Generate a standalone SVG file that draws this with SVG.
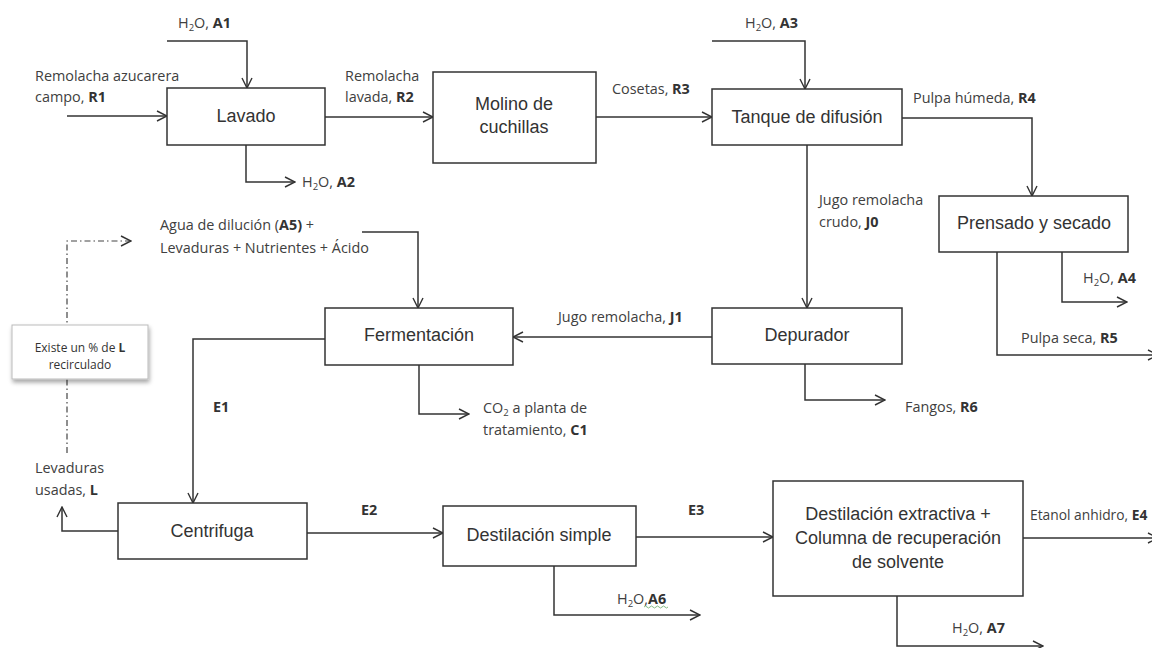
<svg xmlns="http://www.w3.org/2000/svg" width="1152" height="648" viewBox="0 0 1152 648">
<style>
.box{fill:#fff;stroke:#333;stroke-width:1.5}
.bt{font-family:"Liberation Sans",Arial,sans-serif;font-size:18px;fill:#333;text-anchor:middle}
.lb{font-family:"Open Sans","Liberation Sans",sans-serif;font-size:14.4px;fill:#404040}
.lb tspan.b{font-weight:bold;fill:#333}
.sub{font-size:9.5px}
.cn{fill:none;stroke:#333;stroke-width:1.5}
.dd{fill:none;stroke:#444;stroke-width:1.2;stroke-dasharray:6 3 1.5 3}
.nt{font-family:"Open Sans","Liberation Sans",sans-serif;font-size:12px;fill:#333;text-anchor:middle}
</style>
<defs>
<marker id="ar" viewBox="0 0 12 12" refX="11" refY="6" markerWidth="12" markerHeight="12" markerUnits="userSpaceOnUse" orient="auto">
<path d="M1,1 L11,6 L1,11" fill="none" stroke="#333" stroke-width="1.4"/>
</marker>
<filter id="sh" x="-20%" y="-20%" width="140%" height="160%">
<feDropShadow dx="1" dy="3" stdDeviation="2" flood-color="#000" flood-opacity="0.35"/>
</filter>
</defs>
<rect width="1152" height="648" fill="#fff"/>

<g id="connectors">
<path class="cn" d="M67,116 H167" marker-end="url(#ar)"/>
<path class="cn" d="M167,41 H247 V88" marker-end="url(#ar)"/>
<path class="cn" d="M246,145 V182 H295" marker-end="url(#ar)"/>
<path class="cn" d="M325,117 H433" marker-end="url(#ar)"/>
<path class="cn" d="M596,117 H712" marker-end="url(#ar)"/>
<path class="cn" d="M712,41 H805 V89" marker-end="url(#ar)"/>
<path class="cn" d="M902,118 H1032 V196" marker-end="url(#ar)"/>
<path class="cn" d="M1062,252 V302 H1127" marker-end="url(#ar)"/>
<path class="cn" d="M997,252 V355 H1158" marker-end="url(#ar)"/>
<path class="cn" d="M807,145 V308" marker-end="url(#ar)"/>
<path class="cn" d="M805,364 V400 H885" marker-end="url(#ar)"/>
<path class="cn" d="M712,337 H513" marker-end="url(#ar)"/>
<path class="cn" d="M362,232 H418 V308" marker-end="url(#ar)"/>
<path class="cn" d="M419,365 V414 H469" marker-end="url(#ar)"/>
<path class="cn" d="M325,339 H193 V503" marker-end="url(#ar)"/>
<path class="cn" d="M118,531 H62 V507" marker-end="url(#ar)"/>
<path class="cn" d="M307,533 H443" marker-end="url(#ar)"/>
<path class="cn" d="M636,537 H773" marker-end="url(#ar)"/>
<path class="cn" d="M554,566 V615 H700" marker-end="url(#ar)"/>
<path class="cn" d="M1023,538 H1158" marker-end="url(#ar)"/>
<path class="cn" d="M897,596 V646 H1043" marker-end="url(#ar)"/>
<path class="dd" d="M67,453 V241 H131" marker-end="url(#ar)"/>
</g>

<g id="lavado"><rect class="box" x="167" y="88" width="158" height="57"/><text class="bt" x="246" y="122">Lavado</text></g>
<g id="molino"><rect class="box" x="433" y="72" width="163" height="91"/><text class="bt" x="514" y="110">Molino de</text><text class="bt" x="514" y="133">cuchillas</text></g>
<g id="tanque"><rect class="box" x="712" y="89" width="190" height="56"/><text class="bt" x="807" y="123">Tanque de difusión</text></g>
<g id="prensado"><rect class="box" x="939" y="196" width="189" height="56"/><text class="bt" x="1034" y="229">Prensado y secado</text></g>
<g id="depurador"><rect class="box" x="712" y="308" width="190" height="56"/><text class="bt" x="807" y="341">Depurador</text></g>
<g id="fermentacion"><rect class="box" x="325" y="308" width="188" height="57"/><text class="bt" x="419" y="341">Fermentación</text></g>
<g id="centrifuga"><rect class="box" x="118" y="503" width="189" height="56"/><text class="bt" x="212" y="537">Centrifuga</text></g>
<g id="dest-simple"><rect class="box" x="443" y="506" width="193" height="60"/><text class="bt" x="539" y="541">Destilación simple</text></g>
<g id="dest-extractiva"><rect class="box" x="773" y="481" width="250" height="115"/><text class="bt" x="898" y="520">Destilación extractiva +</text><text class="bt" x="898" y="544">Columna de recuperación</text><text class="bt" x="898" y="568">de solvente</text></g>
<g id="nota"><rect x="12" y="325" width="136" height="54" fill="#fff" stroke="#bbb" stroke-width="1" filter="url(#sh)"/><text class="nt" x="80" y="352">Existe  un % de <tspan font-weight="bold">L</tspan></text><text class="nt" x="80" y="369">recirculado</text></g>

<g id="labels">
<text class="lb" x="178" y="28">H<tspan class="sub" dy="3">2</tspan><tspan dy="-3">O, </tspan><tspan class="b">A1</tspan></text>
<text class="lb" x="35" y="81">Remolacha azucarera</text>
<text class="lb" x="35" y="102">campo, <tspan class="b">R1</tspan></text>
<text class="lb" x="302" y="187">H<tspan class="sub" dy="3">2</tspan><tspan dy="-3">O, </tspan><tspan class="b">A2</tspan></text>
<text class="lb" x="345" y="81">Remolacha</text>
<text class="lb" x="345" y="102">lavada, <tspan class="b">R2</tspan></text>
<text class="lb" x="612" y="94">Cosetas, <tspan class="b">R3</tspan></text>
<text class="lb" x="745" y="28">H<tspan class="sub" dy="3">2</tspan><tspan dy="-3">O, </tspan><tspan class="b">A3</tspan></text>
<text class="lb" x="913" y="103">Pulpa húmeda, <tspan class="b">R4</tspan></text>
<text class="lb" x="819" y="205">Jugo remolacha</text>
<text class="lb" x="819" y="227">crudo, <tspan class="b">J0</tspan></text>
<text class="lb" x="1083" y="283">H<tspan class="sub" dy="3">2</tspan><tspan dy="-3">O, </tspan><tspan class="b">A4</tspan></text>
<text class="lb" x="1021" y="343">Pulpa seca, <tspan class="b">R5</tspan></text>
<text class="lb" x="905" y="412">Fangos, <tspan class="b">R6</tspan></text>
<text class="lb" x="558" y="322">Jugo remolacha, <tspan class="b">J1</tspan></text>
<text class="lb" x="160" y="230">Agua de dilución (<tspan class="b">A5)</tspan> +</text>
<text class="lb" x="160" y="253">Levaduras + Nutrientes + Ácido</text>
<text class="lb" x="483" y="413">CO<tspan class="sub" dy="3">2</tspan><tspan dy="-3"> a planta de</tspan></text>
<text class="lb" x="483" y="435">tratamiento, <tspan class="b">C1</tspan></text>
<text class="lb" x="213" y="412"><tspan class="b">E1</tspan></text>
<text class="lb" x="35" y="473">Levaduras</text>
<text class="lb" x="35" y="495">usadas, <tspan class="b">L</tspan></text>
<text class="lb" x="361" y="515"><tspan class="b">E2</tspan></text>
<text class="lb" x="688" y="515"><tspan class="b">E3</tspan></text>
<text class="lb" x="617" y="604">H<tspan class="sub" dy="3">2</tspan><tspan dy="-3">O,</tspan><tspan class="b">A6</tspan></text>
<path d="M644,607 q1.5,-2 3,0 t3,0 t3,0 t3,0 t3,0 t3,0 t3,0 t3,0" fill="none" stroke="#6a6" stroke-width="0.8"/>
<text class="lb" x="1030" y="520" style="font-size:13.8px">Etanol anhidro, <tspan class="b">E4</tspan></text>
<text class="lb" x="952" y="633">H<tspan class="sub" dy="3">2</tspan><tspan dy="-3">O, </tspan><tspan class="b">A7</tspan></text>
</g>
</svg>
